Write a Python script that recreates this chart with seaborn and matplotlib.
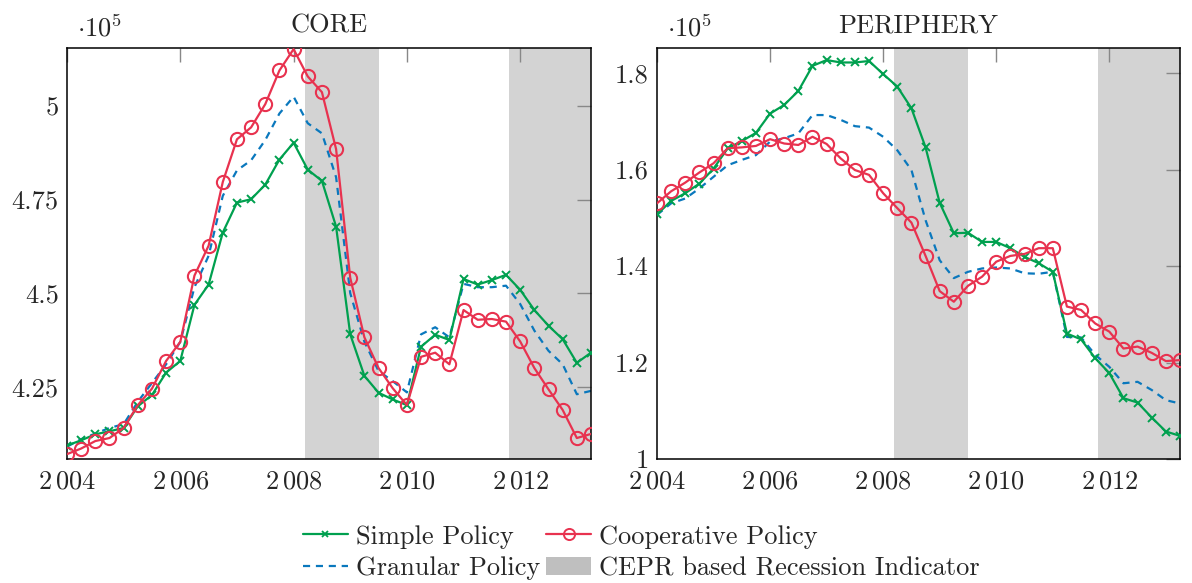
import numpy as np
import pandas as pd
import matplotlib
matplotlib.use("Agg")
import matplotlib.pyplot as plt
from matplotlib.lines import Line2D
from matplotlib.patches import Patch
import seaborn as sns

sns.set_theme(style="white")
plt.rcParams["font.family"] = ["cmr10", "DejaVu Serif"]
plt.rcParams["mathtext.fontset"] = "cm"
plt.rcParams["axes.formatter.use_mathtext"] = True

# ---------------- data (values in units of 10^5) ----------------
quarters = [2004.0, 2004.25, 2004.5, 2004.75, 2005.0, 2005.25, 2005.5, 2005.75,
            2006.0, 2006.25, 2006.5, 2006.75, 2007.0, 2007.25, 2007.5, 2007.75,
            2008.0, 2008.25, 2008.5, 2008.75, 2009.0, 2009.25, 2009.5, 2009.75,
            2010.0, 2010.25, 2010.5, 2010.75, 2011.0, 2011.25, 2011.5, 2011.75,
            2012.0, 2012.25, 2012.5, 2012.75, 2013.0, 2013.25]

core_simple = [4.093, 4.107, 4.123, 4.131, 4.140, 4.198, 4.228, 4.288, 4.319, 4.469,
               4.523, 4.662, 4.742, 4.751, 4.790, 4.857, 4.902, 4.830, 4.800, 4.678,
               4.390, 4.279, 4.234, 4.216, 4.201, 4.357, 4.389, 4.375, 4.538, 4.523,
               4.535, 4.549, 4.509, 4.455, 4.413, 4.377, 4.314, 4.341]
core_coop = [4.070, 4.085, 4.105, 4.113, 4.140, 4.201, 4.245, 4.319, 4.370, 4.547,
             4.627, 4.797, 4.911, 4.943, 5.005, 5.095, 5.152, 5.079, 5.037, 4.885,
             4.541, 4.382, 4.300, 4.246, 4.201, 4.330, 4.341, 4.310, 4.455, 4.429,
             4.431, 4.424, 4.371, 4.300, 4.243, 4.188, 4.113, 4.124]
core_gran = [4.090, 4.110, 4.125, 4.140, 4.150, 4.210, 4.260, 4.310, 4.370, 4.516,
             4.600, 4.760, 4.828, 4.855, 4.909, 4.980, 5.025, 4.954, 4.927, 4.810,
             4.500, 4.370, 4.292, 4.265, 4.235, 4.390, 4.409, 4.382, 4.525, 4.516,
             4.516, 4.520, 4.471, 4.400, 4.346, 4.310, 4.230, 4.239]

peri_simple = [1.507, 1.535, 1.551, 1.571, 1.602, 1.644, 1.659, 1.676, 1.716, 1.734,
               1.763, 1.815, 1.827, 1.822, 1.822, 1.825, 1.798, 1.772, 1.727, 1.646,
               1.531, 1.468, 1.469, 1.450, 1.450, 1.437, 1.419, 1.406, 1.388, 1.260,
               1.248, 1.209, 1.178, 1.126, 1.117, 1.086, 1.057, 1.048]
peri_coop = [1.530, 1.555, 1.573, 1.594, 1.613, 1.644, 1.646, 1.649, 1.663, 1.654,
             1.651, 1.668, 1.653, 1.623, 1.599, 1.589, 1.551, 1.520, 1.490, 1.421,
             1.348, 1.326, 1.359, 1.378, 1.409, 1.421, 1.425, 1.437, 1.437, 1.316,
             1.309, 1.281, 1.264, 1.229, 1.233, 1.220, 1.203, 1.205]
peri_gran = [1.506, 1.530, 1.540, 1.561, 1.585, 1.609, 1.620, 1.630, 1.658, 1.665,
             1.675, 1.713, 1.713, 1.703, 1.690, 1.687, 1.668, 1.640, 1.599, 1.495,
             1.412, 1.375, 1.388, 1.395, 1.397, 1.395, 1.385, 1.384, 1.388, 1.253,
             1.252, 1.216, 1.191, 1.157, 1.160, 1.143, 1.122, 1.115]

recessions = [(2008.2, 2009.5), (2011.8, 2013.25)]

x_ticks = [2004, 2006, 2008, 2010, 2012]
x_ticklabels = [r"$2\,004$", r"$2\,006$", r"$2\,008$", r"$2\,010$", r"$2\,012$"]
core_yticks = [4.25, 4.5, 4.75, 5.0]
core_yticklabels = ["4.25", "4.5", "4.75", "5"]
peri_yticks = [1.0, 1.2, 1.4, 1.6, 1.8]
peri_yticklabels = ["1", "1.2", "1.4", "1.6", "1.8"]

titles = ["CORE", "PERIPHERY"]
labels = ["Simple Policy", "Cooperative Policy", "Granular Policy",
          "CEPR based Recession Indicator"]

# ---------------- style ----------------
GREEN = "#00a04f"
RED = "#e8324f"
BLUE = "#0a78bd"
SHADE = "#d3d3d3"
FS = 19

fig = plt.figure(figsize=(11.92, 5.83), dpi=100)
ax1 = fig.add_axes([67 / 1192, 1 - 459 / 583, 524 / 1192, 411 / 583])
ax2 = fig.add_axes([657 / 1192, 1 - 459 / 583, 523 / 1192, 411 / 583])

panels = [
    (ax1, core_simple, core_coop, core_gran, (4.057, 5.155), core_yticks, core_yticklabels),
    (ax2, peri_simple, peri_coop, peri_gran, (1.0, 1.852), peri_yticks, peri_yticklabels),
]

for (ax, s, c, g, ylim, yt, ytl), title in zip(panels, titles):
    for a, b in recessions:
        ax.axvspan(a, b, color=SHADE, lw=0, zorder=0)
    sns.lineplot(x=quarters, y=g, ax=ax, color=BLUE, lw=1.6,
                 linestyle=(0, (3.2, 2.6)), zorder=2)
    sns.lineplot(x=quarters, y=s, ax=ax, color=GREEN, lw=1.6, marker="x",
                 markersize=6, markeredgewidth=1.4, markeredgecolor=GREEN, zorder=3)
    sns.lineplot(x=quarters, y=c, ax=ax, color=RED, lw=1.6, marker="o",
                 markersize=9.5, markerfacecolor="none", markeredgewidth=1.5,
                 markeredgecolor=RED, zorder=4)
    ax.set_xlim(2004, 2013.25)
    ax.set_ylim(*ylim)
    ax.set_xticks(x_ticks)
    ax.set_xticklabels(x_ticklabels)
    ax.set_yticks(yt)
    ax.set_yticklabels(ytl)
    ax.tick_params(axis="both", direction="in", length=10, width=1.0, color="#888888",
                   top=True, right=True, labelsize=FS, pad=6)
    ax.tick_params(axis="x", pad=8)
    for sp in ax.spines.values():
        sp.set_color("black")
        sp.set_linewidth(1.1)
        sp.set_visible(True)
    ax.set_title(title, fontsize=FS, pad=11)
    ax.set_xlabel("")
    ax.set_ylabel("")
    ax.text(0.02, 1.015, r"$\cdot 10^5$", transform=ax.transAxes, fontsize=FS,
            ha="left", va="bottom")
    ax.grid(False)

handles = [
    Line2D([], [], color=GREEN, lw=1.6, marker="x", markersize=5, markeredgewidth=1.3),
    Line2D([], [], color=BLUE, lw=1.6, linestyle=(0, (3.2, 2.6))),
    Line2D([], [], color=RED, lw=1.6, marker="o", markersize=8, markerfacecolor="none",
           markeredgewidth=1.4),
    Patch(facecolor="#bfbfbf", edgecolor="none"),
]
leg_labels = [labels[0], labels[2], labels[1], labels[3]]
fig.legend(handles, leg_labels, loc="center", bbox_to_anchor=(0.538, 0.052), ncol=2,
           frameon=False, fontsize=FS, handlelength=1.7, handletextpad=0.3,
           columnspacing=0.25, labelspacing=0.3, borderpad=0.1)

fig.savefig("out.png", dpi=100)
